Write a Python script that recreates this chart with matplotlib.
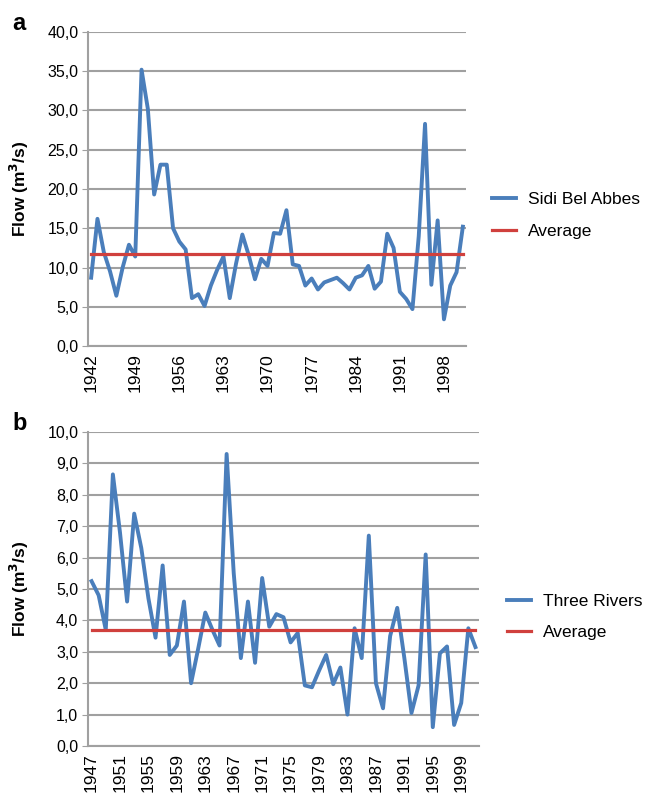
import numpy as np
import matplotlib
matplotlib.use("Agg")
import matplotlib.pyplot as plt
from matplotlib.ticker import FuncFormatter, FixedLocator

plt.rcParams['font.family'] = ['Liberation Sans', 'DejaVu Sans']

# ---- Data ----
years_a = list(range(1942, 2002))
flow_a = [8.7, 16.2, 12.0, 9.5, 6.4, 10.0, 12.9, 11.4, 35.2, 30.2,
          19.3, 23.1, 23.1, 15.0, 13.3, 12.3, 6.1, 6.6, 5.1, 7.7,
          9.7, 11.4, 6.1, 10.5, 14.2, 11.6, 8.5, 11.1, 10.2, 14.4,
          14.3, 17.3, 10.4, 10.2, 7.7, 8.6, 7.2, 8.1, 8.4, 8.7,
          8.0, 7.2, 8.7, 9.0, 10.2, 7.3, 8.2, 14.3, 12.5, 6.9,
          6.0, 4.7, 14.0, 28.3, 7.8, 16.0, 3.4, 7.7, 9.4, 15.2]
avg_a = 11.7
label_a = "Sidi Bel Abbes"

years_b = list(range(1947, 2002))
flow_b = [5.25, 4.8, 3.7, 8.65, 6.8, 4.6, 7.4, 6.3, 4.7, 3.45,
          5.75, 2.9, 3.2, 4.6, 2.0, 3.1, 4.25, 3.7, 3.2, 9.3,
          5.5, 2.8, 4.6, 2.65, 5.35, 3.8, 4.2, 4.1, 3.3, 3.6,
          1.93, 1.87, 2.4, 2.9, 1.97, 2.5, 1.0, 3.75, 2.8, 6.7,
          2.0, 1.2, 3.5, 4.4, 2.8, 1.05, 1.93, 6.1, 0.6, 2.95,
          3.17, 0.67, 1.37, 3.75, 3.15]
avg_b = 3.7
label_b = "Three Rivers"

ticks_a = [1942, 1949, 1956, 1963, 1970, 1977, 1984, 1991, 1998]
ticks_b = [1947, 1951, 1955, 1959, 1963, 1967, 1971, 1975, 1979, 1983,
           1987, 1991, 1995, 1999]

BLUE = '#4a7ebb'
RED = '#d0403d'
GRID = '#a0a0a0'

W, H = 647, 798
fig = plt.figure(figsize=(W / 100, H / 100), dpi=100)


def fmt(v, pos):
    return f"{v:.1f}".replace('.', ',')


def make_panel(rect, years, flow, avg, label, ticks, ymax, ystep, leg_anchor, letter, letter_y, ylab_x):
    ax = fig.add_axes(rect)
    x = np.arange(len(years))
    ax.plot(x, flow, color=BLUE, lw=2.8, solid_joinstyle='round', label=label, zorder=3)
    ax.plot(x, [avg] * len(years), color=RED, lw=2.3, label='Average', zorder=4)
    ax.set_xlim(-0.5, len(years) - 0.5)
    ax.set_ylim(0, ymax)
    ax.yaxis.set_major_locator(FixedLocator(np.arange(0, ymax + ystep / 2, ystep)))
    ax.yaxis.set_major_formatter(FuncFormatter(fmt))
    ax.set_xticks([years.index(t) for t in ticks])
    ax.set_xticklabels([str(t) for t in ticks], rotation=90)
    ax.grid(axis='y', color=GRID, lw=1.5, zorder=0)
    for s in ['top', 'right']:
        ax.spines[s].set_visible(False)
    for s in ['left', 'bottom']:
        ax.spines[s].set_color(GRID)
        ax.spines[s].set_linewidth(1.5)
    ax.tick_params(axis='y', length=4, color=GRID, labelsize=11.5, pad=3, labelcolor='black')
    ax.tick_params(axis='x', length=0, labelsize=12.5, pad=5, labelcolor='black')
    ax.set_ylabel(r"Flow (m$^\mathbf{3}$/s)", fontsize=12.5, fontweight='bold')
    ax.yaxis.set_label_coords(ylab_x, 0.5)
    ax.legend(loc='center left', bbox_to_anchor=leg_anchor, frameon=False,
              fontsize=12.5, handlelength=1.4, handletextpad=0.7,
              labelspacing=0.95, borderpad=0, borderaxespad=0)
    fig.text(12 / W, 1 - letter_y / H, letter, fontsize=17, fontweight='bold',
             va='center', ha='left')
    return ax


rect_a = [88 / W, (H - 346) / H, (466 - 88) / W, 314 / H]
rect_b = [88 / W, (H - 746) / H, (479 - 88) / W, 314 / H]

make_panel(rect_a, years_a, flow_a, avg_a, label_a, ticks_a, 40, 5,
           (1.068, 0.4156), 'a', 23, -0.151)
make_panel(rect_b, years_b, flow_b, avg_b, label_b, ticks_b, 10, 1,
           (1.0716, 0.411), 'b', 423, -0.146)

fig.savefig('out.png', dpi=100)
